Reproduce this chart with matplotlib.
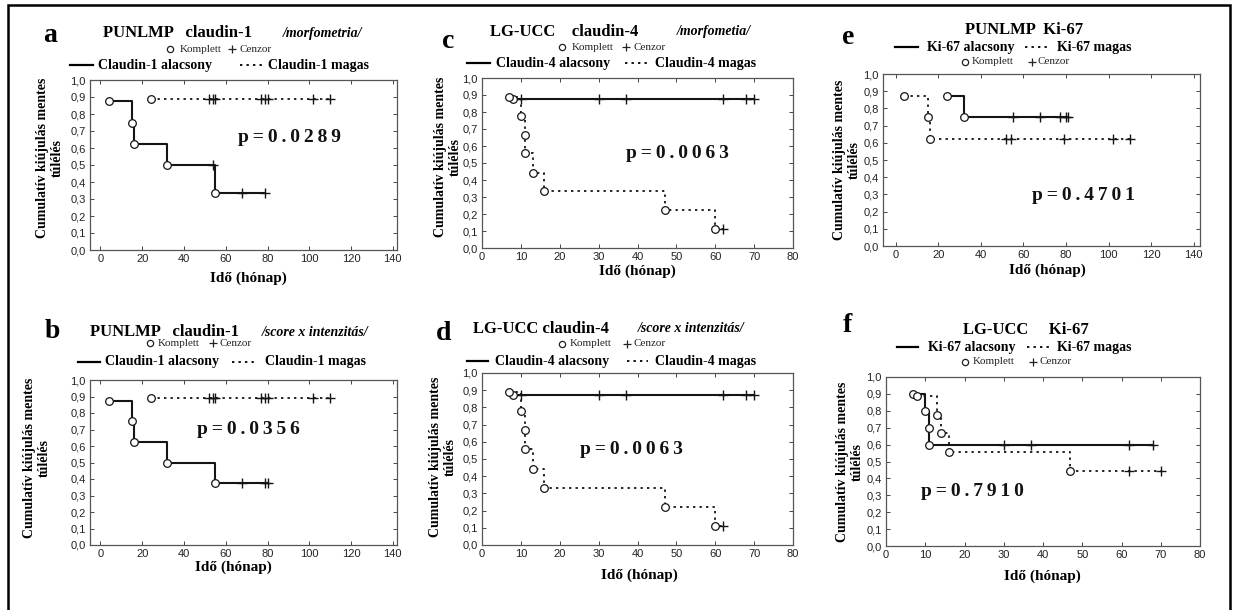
import numpy as np
import matplotlib.pyplot as plt

W, H = 1233, 610
SERIF = ['Liberation Serif', 'DejaVu Serif']
SANS = ['Liberation Sans', 'DejaVu Sans']

# --- data: event times / survival at event / censored times ---
# a: PUNLMP claudin-1 (morfometria)
a_low_t = [4, 15, 16, 32, 55]
a_low_s = [0.875, 0.75, 0.625, 0.5, 0.333]
a_low_c = [54, 68, 79]
a_high_t = [24]
a_high_s = [0.889]
a_high_c = [52, 54, 55, 77, 79, 80, 102, 110]

# b: PUNLMP claudin-1 (score x intenzitás)
b_low_t = [4, 15, 16, 32, 55]
b_low_s = [0.875, 0.75, 0.625, 0.5, 0.375]
b_low_c = [68, 79, 80]
b_high_t = [24]
b_high_s = [0.889]
b_high_c = [52, 54, 55, 77, 79, 80, 102, 110]

# c: LG-UCC claudin-4 (morfometia)
c_low_t = [8]
c_low_s = [0.875]
c_low_c = [10, 30, 37, 62, 68, 70]
c_high_t = [7, 10, 11, 11, 13, 16, 47, 60]
c_high_s = [0.889, 0.778, 0.667, 0.556, 0.444, 0.333, 0.222, 0.111]
c_high_c = [62]

# d: LG-UCC claudin-4 (score x intenzitás)
d_low_t = [8]
d_low_s = [0.875]
d_low_c = [10, 30, 37, 62, 68, 70]
d_high_t = [7, 10, 11, 11, 13, 16, 47, 60]
d_high_s = [0.889, 0.778, 0.667, 0.556, 0.444, 0.333, 0.222, 0.111]
d_high_c = [62]

# e: PUNLMP Ki-67
e_low_t = [24, 32]
e_low_s = [0.875, 0.75]
e_low_c = [55, 68, 77, 80, 81]
e_high_t = [4, 15, 16]
e_high_s = [0.875, 0.75, 0.625]
e_high_c = [52, 54, 79, 102, 110]

# f: LG-UCC Ki-67
f_low_t = [7, 10, 11, 11]
f_low_s = [0.9, 0.8, 0.7, 0.6]
f_low_c = [30, 37, 62, 68]
f_high_t = [8, 13, 14, 16, 47]
f_high_s = [0.889, 0.778, 0.667, 0.556, 0.444]
f_high_c = [62, 70]

p_values = {'a': '0.0289', 'b': '0.0356', 'c': '0.0063',
            'd': '0.0063', 'e': '0.4701', 'f': '0.7910'}
y_ticks = np.arange(0, 1.01, 0.1)
y_ticklabels = [f"{v:.1f}".replace('.', ',') for v in y_ticks]

DOT = (0, (1.3, 2.3))

fig = plt.figure(figsize=(W / 100, H / 100), dpi=100)
ov = fig.add_axes([0, 0, 1, 1])
ov.set_xlim(0, W)
ov.set_ylim(H, 0)
ov.axis('off')
ov.set_zorder(10)

# outer frame (no bottom edge)
ov.plot([8, 8, 1230, 1230], [H, 5, 5, H], color='black', lw=1.8,
        solid_joinstyle='miter')


def box(l, t, r, b):
    return [l / W, 1 - b / H, (r - l) / W, (b - t) / H]


def km(ax, ev_t, ev_s, cens_t, ls):
    ev_t = np.asarray(ev_t, float)
    ev_s = np.asarray(ev_s, float)
    cens_t = np.asarray(cens_t, float)
    end = max(ev_t.max(), cens_t.max() if len(cens_t) else 0)
    x = np.append(ev_t, end)
    y = np.append(ev_s, ev_s[-1])
    lw = 1.5 if ls == '-' else 1.3
    ax.plot(x, y, drawstyle='steps-post', ls=ls, color='#151515', lw=lw, zorder=2)
    idx = np.searchsorted(ev_t, cens_t, side='right') - 1
    ax.plot(cens_t, ev_s[idx], '+', color='#151515', ms=7, mew=1.0, zorder=3)
    ax.plot(ev_t, ev_s, 'o', mfc='white', mec='#151515', ms=5.5, mew=0.9, zorder=4)


def line_legend(y, lab_low, lab_high, pos):
    # pos: (solid_start, solid_end, text1_x, dot_start, dot_end, text2_x)
    s0, s1, t1, d0, d1, t2 = pos
    ov.plot([s0, s1], [y, y], color='black', lw=1.6)
    ov.text(t1, y, lab_low, family=SERIF, weight='bold', fontsize=10,
            ha='left', va='center')
    ov.plot([d0, d1], [y, y], color='black', lw=1.3, ls=DOT)
    ov.text(t2, y, lab_high, family=SERIF, weight='bold', fontsize=10,
            ha='left', va='center')


def marker_legend(y, cx, kx, px, zx):
    ov.plot([cx], [y], 'o', mfc='white', mec='#222', ms=4.5, mew=0.9)
    ov.text(kx, y, 'Komplett', family=SERIF, fontsize=8, ha='left', va='center',
            color='#222')
    ov.plot([px], [y], '+', color='#222', ms=6, mew=0.9)
    ov.text(zx, y, 'Cenzor', family=SERIF, fontsize=8, ha='left', va='center',
            color='#222')


panels = [
    dict(key='a', box=(90, 80, 397, 250), xlim=(-5, 142), xt=np.arange(0, 141, 20),
         low=(a_low_t, a_low_s, a_low_c), high=(a_high_t, a_high_s, a_high_c),
         letter=(50, 35), title=('PUNLMP   claudin-1', 103, 33), sub=('/morfometria/', 283),
         mk=(49, 170, 180, 232, 240), lg=(65, (70, 93, 98, 240, 263, 268)),
         names=('Claudin-1 alacsony', 'Claudin-1 magas'),
         ylab=(50, 158), xlab=(248, 278), p=(289, 138)),
    dict(key='b', box=(90, 380, 397, 545), xlim=(-5, 142), xt=np.arange(0, 141, 20),
         low=(b_low_t, b_low_s, b_low_c), high=(b_high_t, b_high_s, b_high_c),
         letter=(52, 332), title=('PUNLMP   claudin-1', 90, 332), sub=('/score x intenzitás/', 262),
         mk=(343, 150, 158, 213, 220), lg=(362, (78, 100, 105, 232, 257, 265)),
         names=('Claudin-1 alacsony', 'Claudin-1 magas'),
         ylab=(37, 458), xlab=(233, 567), p=(248, 430)),
    dict(key='c', box=(482, 78, 793, 248), xlim=(0, 80), xt=np.arange(0, 81, 10),
         low=(c_low_t, c_low_s, c_low_c), high=(c_high_t, c_high_s, c_high_c),
         letter=(448, 42), title=('LG-UCC    claudin-4', 490, 32), sub=('/morfometia/', 677),
         mk=(47, 562, 572, 626, 633), lg=(63, (467, 490, 496, 625, 648, 655)),
         names=('Claudin-4 alacsony', 'Claudin-4 magas'),
         ylab=(448, 157), xlab=(637, 271), p=(677, 153)),
    dict(key='d', box=(482, 373, 793, 545), xlim=(0, 80), xt=np.arange(0, 81, 10),
         low=(d_low_t, d_low_s, d_low_c), high=(d_high_t, d_high_s, d_high_c),
         letter=(444, 334), title=('LG-UCC claudin-4', 473, 329), sub=('/score x intenzitás/', 638),
         mk=(344, 562, 570, 627, 633), lg=(361, (467, 488, 495, 627, 648, 655)),
         names=('Claudin-4 alacsony', 'Claudin-4 magas'),
         ylab=(443, 457), xlab=(639, 575), p=(631, 450)),
    dict(key='e', box=(883, 74, 1200, 246), xlim=(-6, 143), xt=np.arange(0, 141, 20),
         low=(e_low_t, e_low_s, e_low_c), high=(e_high_t, e_high_s, e_high_c),
         letter=(848, 37), title=('PUNLMP  Ki-67', 965, 30), sub=None,
         mk=(62, 965, 972, 1032, 1038), lg=(47, (895, 918, 927, 1025, 1048, 1057)),
         names=('Ki-67 alacsony', 'Ki-67 magas'),
         ylab=(847, 160), xlab=(1047, 270), p=(1083, 195)),
    dict(key='f', box=(886, 377, 1200, 546), xlim=(0, 80), xt=np.arange(0, 81, 10),
         low=(f_low_t, f_low_s, f_low_c), high=(f_high_t, f_high_s, f_high_c),
         letter=(847, 325), title=('LG-UCC     Ki-67', 963, 330), sub=None,
         mk=(362, 965, 973, 1033, 1040), lg=(347, (897, 918, 928, 1027, 1050, 1057)),
         names=('Ki-67 alacsony', 'Ki-67 magas'),
         ylab=(850, 462), xlab=(1042, 576), p=(972, 492)),
]

for P in panels:
    ax = fig.add_axes(box(*P['box']))
    ax.set_xlim(*P['xlim'])
    ax.set_ylim(0, 1.0)
    ax.set_xticks(P['xt'])
    ax.set_xticklabels([str(v) for v in P['xt']])
    ax.set_yticks(y_ticks)
    ax.set_yticklabels(y_ticklabels)
    ax.tick_params(direction='in', length=3, width=0.7, color='#444',
                   top=True, right=True, labelsize=8, labelcolor='#222', pad=3)
    for lab in ax.get_xticklabels() + ax.get_yticklabels():
        lab.set_family(SANS)
    for sp in ax.spines.values():
        sp.set_color('#555')
        sp.set_linewidth(0.9)

    km(ax, *P['low'], '-')
    km(ax, *P['high'], DOT)

    # overlay texts
    ov.text(*P['letter'], P['key'], family=SERIF, weight='bold', fontsize=20,
            ha='center', va='center')
    t, tx, ty = P['title']
    ov.text(tx, ty, t, family=SERIF, weight='bold', fontsize=12, ha='left', va='center')
    if P['sub']:
        ov.text(P['sub'][1], ty, P['sub'][0], family=SERIF, weight='bold',
                style='italic', fontsize=10, ha='left', va='center')
    marker_legend(*P['mk'])
    ly, lpos = P['lg']
    line_legend(ly, P['names'][0], P['names'][1], lpos)
    ov.text(*P['ylab'], 'Cumulatív kiújulás mentes\ntúlélés', family=SERIF,
            weight='bold', fontsize=10, rotation=90, ha='center', va='center',
            multialignment='center', linespacing=1.2)
    ov.text(*P['xlab'], 'Idő (hónap)', family=SERIF, weight='bold', fontsize=11,
            ha='center', va='center')
    ptxt = '\u2009'.join('p=' + p_values[P['key']])
    ov.text(*P['p'], ptxt, family=SERIF, weight='bold', fontsize=14,
            ha='center', va='center', color='#111')

fig.savefig('out.png', dpi=100)
